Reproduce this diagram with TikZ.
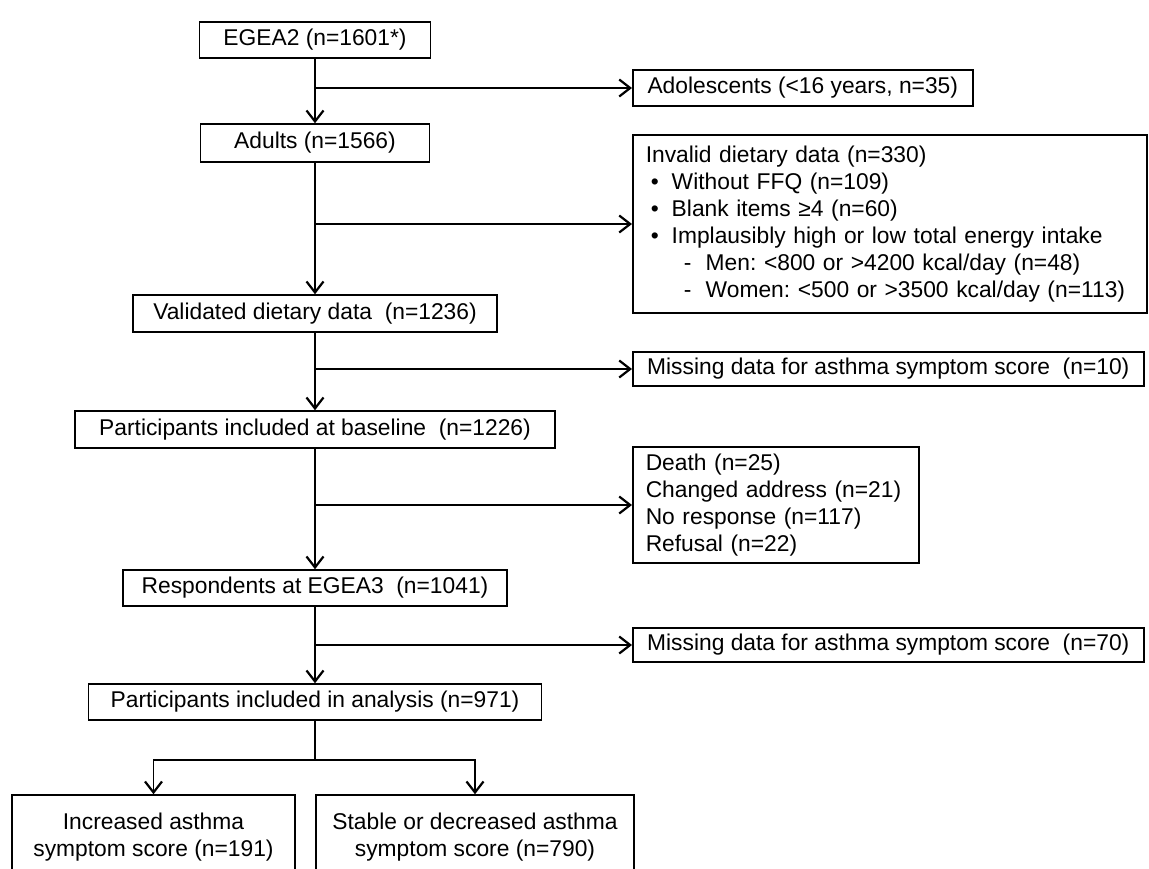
\documentclass[tikz,border=0pt]{standalone}
\usepackage{fontspec}
\setmainfont{Liberation Sans}
\usetikzlibrary{arrows.meta}

\begin{document}
\begin{tikzpicture}[x=0.5pt,y=-0.5pt,
  box/.style={draw,line width=0.75pt,inner sep=0pt,font=\fontsize{11.4}{13.5}\selectfont\frenchspacing},
  side/.style={box,anchor=west,align=left,inner xsep=6.5pt},
  flow/.style={line width=0.75pt,->},
  >={Straight Barb[length=5.5pt,width=8.5pt,line width=1.1pt]}]
\useasboundingbox (0,0) rectangle (1149,868);

% Main column.
\node[box,minimum width=115.5pt,minimum height=18pt] (E2) at (315,40) {EGEA2 (n=1601*)};
\node[box,minimum width=114.5pt,minimum height=19pt] (Ad) at (315,143) {Adults (n=1566)};
\node[box,minimum width=182pt,minimum height=18.5pt] (Val) at (315,313.5) {Validated dietary data\ \ (n=1236)};
\node[box,minimum width=240pt,minimum height=18.5pt] (Base) at (315,429.5) {Participants included at baseline\ \ (n=1226)};
\node[box,minimum width=192pt,minimum height=18pt] (Resp) at (315,588) {Respondents at EGEA3\ \ (n=1041)};
\node[box,minimum width=226.5pt,minimum height=18pt] (Anal) at (315,702) {Participants included in analysis (n=971)};

% Exclusions.
\node[box,anchor=west,minimum width=170pt,minimum height=18pt] (Adol) at (632,88) {Adolescents (<16 years, n=35)};
\node[side,text width=244pt,minimum height=89pt] (Inv) at (632,224) {Invalid dietary data (n=330)\\
  \hspace*{2.5pt}\makebox[10.5pt][l]{\textbullet}Without FFQ (n=109)\\
  \hspace*{2.5pt}\makebox[10.5pt][l]{\textbullet}Blank items ≥4 (n=60)\\
  \hspace*{2.5pt}\makebox[10.5pt][l]{\textbullet}Implausibly high or low total energy intake\\
  \hspace*{19pt}\makebox[11pt][l]{-}Men: <800 or >4200 kcal/day (n=48)\\
  \hspace*{19pt}\makebox[11pt][l]{-}Women: <500 or >3500 kcal/day (n=113)};
\node[box,anchor=west,minimum width=255.5pt,minimum height=17pt] (Mis1) at (632,369) {Missing data for asthma symptom score\ \ (n=10)};
\node[side,text width=130pt,minimum height=58pt] (Lost) at (632,505) {Death (n=25)\\Changed address (n=21)\\No response (n=117)\\Refusal (n=22)};
\node[box,anchor=west,minimum width=255.5pt,minimum height=17pt] (Mis2) at (632,645) {Missing data for asthma symptom score\ \ (n=70)};

% Outcome groups.
\node[box,align=center,minimum width=141.5pt,minimum height=42pt] (Inc) at (153.5,837) {Increased asthma\\symptom score (n=191)};
\node[box,align=center,minimum width=159pt,minimum height=42pt] (Stab) at (475,837) {Stable or decreased asthma\\symptom score (n=790)};

\draw[flow] (E2) -- (Ad);
\draw[flow] (Ad) -- (Val);
\draw[flow] (Val) -- (Base);
\draw[flow] (Base) -- (Resp);
\draw[flow] (Resp) -- (Anal);

\draw[flow] (E2 |- Adol.west) -- (Adol.west);
\draw[flow] (Ad |- Inv.west) -- (Inv.west);
\draw[flow] (Val |- Mis1.west) -- (Mis1.west);
\draw[flow] (Base |- Lost.west) -- (Lost.west);
\draw[flow] (Resp |- Mis2.west) -- (Mis2.west);

\coordinate (Split) at (315,760);
\draw[line width=0.75pt] (Anal) -- (Split);
\draw[flow] (Split) -| (Inc);
\draw[flow] (Split) -| (Stab);

\end{tikzpicture}
\end{document}
